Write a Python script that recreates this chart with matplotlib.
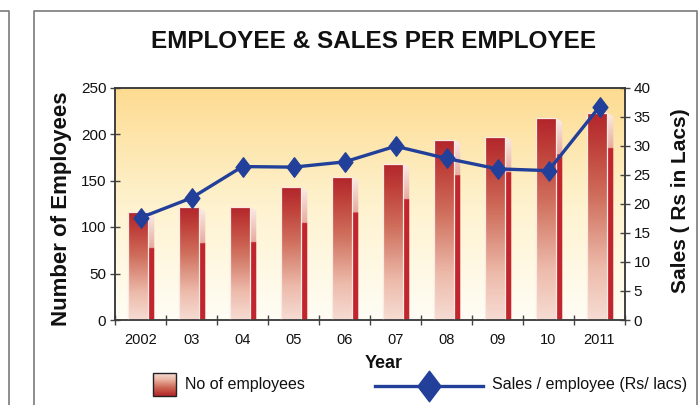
import numpy as np
import matplotlib
matplotlib.use("Agg")
import matplotlib.pyplot as plt
from matplotlib.colors import LinearSegmentedColormap
from matplotlib.patches import Polygon, Rectangle
from matplotlib.path import Path
from matplotlib.lines import Line2D

plt.rcParams['font.family'] = ['Liberation Sans', 'DejaVu Sans']

# ---------------- data ----------------
years = ['2002', '03', '04', '05', '06', '07', '08', '09', '10', '2011']
employees = [116, 121, 122, 143, 154, 168, 194, 197, 217, 223]
sales_per_emp = [17.6, 21.0, 26.4, 26.3, 27.2, 29.9, 27.8, 26.0, 25.7, 36.7]

title = 'EMPLOYEE & SALES PER EMPLOYEE'
ylabel_left = 'Number of Employees'
ylabel_right = 'Sales ( Rs in Lacs)'
xlabel = 'Year'
legend_bar = 'No of employees'
legend_line = 'Sales / employee (Rs/ lacs)'

# ---------------- style ----------------
W, H = 700, 405
fig = plt.figure(figsize=(W / 100, H / 100), dpi=100)
fig.patch.set_facecolor('white')

L, R, T, B = 115, 625, 87.5, 320
ax = fig.add_axes([L / W, 1 - B / H, (R - L) / W, (B - T) / H])
ax2 = ax.twinx()

n = len(years)
xs = np.arange(n)
ax.set_xlim(-0.5, n - 0.5)
ax.set_ylim(0, 250)
ax2.set_ylim(0, 40)

# background gradient
bg_cmap = LinearSegmentedColormap.from_list('bg', ['#FFFDF5', '#FEF2CE', '#FDDB90'])
grad = np.linspace(0, 1, 256).reshape(-1, 1)
ax.imshow(grad, cmap=bg_cmap, origin='lower', aspect='auto',
          extent=[-0.5, n - 0.5, 0, 250], zorder=0, interpolation='bicubic')

front_cmap = LinearSegmentedColormap.from_list(
    'front', [(0.0, '#F6DCD3'), (0.25, '#EDBBAB'), (0.6, '#CF6D5B'), (0.85, '#BE3E38'), (1.0, '#B2252B')])

px_per_unit = (B - T) / 250.0
f0, f1, s1 = -0.25, 0.15, 0.27
slant = 4 / px_per_unit

light_top = np.array(matplotlib.colors.to_rgb('#FBEDE8'))
light_bot = np.array(matplotlib.colors.to_rgb('#E7ABA0'))
red = np.array(matplotlib.colors.to_rgb('#C1262E'))

for i, h in enumerate(employees):
    cx = xs[i]
    # front face
    im = ax.imshow(grad, cmap=front_cmap, origin='lower', aspect='auto',
                   extent=[cx + f0, cx + f1, 0, h], zorder=2, interpolation='bicubic')
    rect = Rectangle((cx + f0, 0), f1 - f0, h, transform=ax.transData,
                     facecolor='none', edgecolor='#FBEAE4', lw=0.9, zorder=3)
    ax.add_patch(rect)
    im.set_clip_path(rect)
    # side face
    rows = 300
    yy = np.linspace(0, h, rows)
    dist = (h - yy) * px_per_unit
    side = np.zeros((rows, 1, 3))
    for r in range(rows):
        d = dist[r]
        if d < 36:
            t = d / 36
            side[r, 0] = light_top * (1 - t) + light_bot * t
        else:
            side[r, 0] = red
    poly = Polygon([(cx + f1, 0), (cx + f1, h), (cx + s1, h - slant), (cx + s1, 0)],
                   closed=True, transform=ax.transData, facecolor='none', edgecolor='none', zorder=2)
    ax.add_patch(poly)
    ims = ax.imshow(side, origin='lower', aspect='auto',
                    extent=[cx + f1, cx + s1, 0, h], zorder=2, interpolation='bilinear')
    ims.set_clip_path(poly)

# line
diamond = Path([(0, 1), (0.76, 0), (0, -1), (-0.76, 0), (0, 1)],
               [Path.MOVETO, Path.LINETO, Path.LINETO, Path.LINETO, Path.CLOSEPOLY])
line_color = '#22409A'
ax2.plot(xs, sales_per_emp, color=line_color, lw=2.4, marker=diamond,
         markersize=14, markerfacecolor=line_color, markeredgecolor=line_color, zorder=5)

# axes styling
spine_color = '#3A3A3A'
for a in (ax, ax2):
    for s in a.spines.values():
        s.set_color(spine_color)
        s.set_linewidth(1.1)
ax.spines['bottom'].set_color('#555555')

ax.set_xticks(np.arange(-0.5, n, 1.0))
ax.set_xticklabels([])
ax.set_xticks(xs, minor=True)
ax.set_xticklabels(years, minor=True)
ax.tick_params(axis='x', which='major', direction='inout', length=7, width=1, color='#444444')
ax.tick_params(axis='x', which='minor', length=0, pad=9, labelsize=10.5, labelcolor='#111111')

ax.set_yticks(np.arange(0, 251, 50))
ax.tick_params(axis='y', direction='inout', length=6.5, width=1, color='#444444',
               labelsize=11, pad=3, labelcolor='#111111')
ax2.set_yticks(np.arange(0, 41, 5))
ax2.tick_params(axis='y', direction='inout', length=6.5, width=1, color='#444444',
                labelsize=11, pad=3, labelcolor='#111111')

# overlay for frame, titles and legend (pixel coordinates)
ov = fig.add_axes([0, 0, 1, 1], zorder=10)
ov.set_xlim(0, W)
ov.set_ylim(H, 0)
ov.axis('off')
frame_c = '#7A7A7A'
ov.add_line(Line2D([34, 34, 697, 697], [H + 5, 11, 11, H + 5], color=frame_c, lw=1.2))
ov.add_line(Line2D([-5, 9, 9], [11, 11, H + 5], color=frame_c, lw=1.2))

ov.text(374, 41, title, ha='center', va='center', fontsize=17.5, fontweight='bold', color='#111111')
ov.text(62, 209, ylabel_left, ha='center', va='center', rotation=90, fontsize=16,
        fontweight='bold', color='#111111')
ov.text(680, 201, ylabel_right, ha='center', va='center', rotation=90, fontsize=15,
        fontweight='bold', color='#111111')
ov.text(384, 363, xlabel, ha='center', va='center', fontsize=13, fontweight='bold', color='#111111')

# legend: bar swatch
ov.imshow(grad, cmap=front_cmap, origin='upper', aspect='auto',
          extent=[153, 176, 396, 373], zorder=11, interpolation='bicubic')
ov.add_patch(Rectangle((153, 373), 23, 23, facecolor='none', edgecolor='#222222', lw=1.0, zorder=12))
ov.text(185, 385, legend_bar, ha='left', va='center', fontsize=11.5, color='#111111')
ov.set_xlim(0, W)
ov.set_ylim(H, 0)

# legend: line
ov.add_line(Line2D([375, 483], [386, 386], color=line_color, lw=2.4, zorder=12))
ov.add_line(Line2D([429], [386], marker=diamond, markersize=22, color=line_color,
                   markerfacecolor=line_color, markeredgecolor=line_color, zorder=13))
ov.text(492, 385, legend_line, ha='left', va='center', fontsize=11.5, color='#111111')

fig.savefig('out.png', dpi=100)
